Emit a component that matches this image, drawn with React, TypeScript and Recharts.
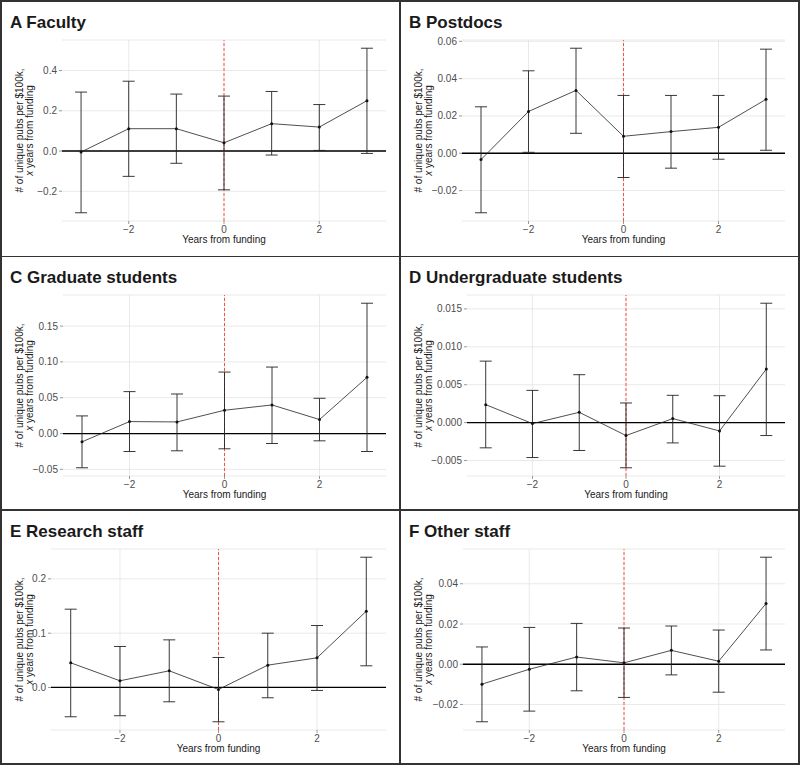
import { LineChart, Line, XAxis, YAxis, CartesianGrid, ReferenceLine, ErrorBar } from 'recharts';

const years = [-3, -2, -1, 0, 1, 2, 3];
const yearTicks = [-2, 0, 2];

const facultyEst = [-0.005, 0.111, 0.111, 0.041, 0.136, 0.119, 0.25];
const facultyLo = [-0.307, -0.126, -0.061, -0.193, -0.02, 0.003, -0.012];
const facultyHi = [0.293, 0.347, 0.283, 0.273, 0.296, 0.231, 0.511];
const facultyTicks = [-0.2, 0, 0.2, 0.4];

const postdocEst = [-0.0034, 0.0224, 0.0337, 0.0091, 0.0116, 0.0139, 0.0289];
const postdocLo = [-0.0319, 0.0005, 0.0107, -0.013, -0.008, -0.0032, 0.0016];
const postdocHi = [0.0249, 0.0442, 0.0563, 0.031, 0.031, 0.031, 0.0558];
const postdocTicks = [-0.02, 0, 0.02, 0.04, 0.06];

const gradEst = [-0.0116, 0.0167, 0.0162, 0.0325, 0.0399, 0.0195, 0.0784];
const gradLo = [-0.0478, -0.0251, -0.0241, -0.0213, -0.0139, -0.0102, -0.0251];
const gradHi = [0.0246, 0.0585, 0.0552, 0.0858, 0.0928, 0.0492, 0.1819];
const gradTicks = [-0.05, 0, 0.05, 0.1, 0.15];

const undergradEst = [0.00237, -0.00013, 0.00136, -0.00171, 0.00053, -0.0011, 0.00706];
const undergradLo = [-0.00333, -0.00461, -0.00368, -0.00596, -0.00268, -0.00575, -0.00171];
const undergradHi = [0.00811, 0.00425, 0.00632, 0.00259, 0.0036, 0.00355, 0.01575];
const undergradTicks = [-0.005, 0, 0.005, 0.01, 0.015];

const researchEst = [0.0454, 0.0123, 0.0307, -0.0037, 0.0411, 0.0546, 0.1405];
const researchLo = [-0.054, -0.0521, -0.0264, -0.0632, -0.019, -0.0055, 0.0399];
const researchHi = [0.1442, 0.0755, 0.0877, 0.0552, 0.1, 0.1141, 0.2399];
const researchTicks = [0, 0.1, 0.2];

const otherEst = [-0.0099, -0.0025, 0.0036, 0.0007, 0.0069, 0.0015, 0.0302];
const otherLo = [-0.0286, -0.0233, -0.0132, -0.0165, -0.0053, -0.0139, 0.0071];
const otherHi = [0.0086, 0.0183, 0.0203, 0.018, 0.019, 0.017, 0.0532];
const otherTicks = [-0.02, 0, 0.02, 0.04];

const FONT = '"Liberation Sans", Arial, Helvetica, sans-serif';
const CHART_W = 397;
const CHART_H = 249;
const TOP = 38;
const RIGHT = 13;
const PLOT_H = CHART_H - TOP - 30;

function fmt(v: number, dec: number) {
  const s = Math.abs(v) < 1e-12 ? (0).toFixed(dec) : v.toFixed(dec);
  return s.replace('-', '\u2212');
}

function yDomain(lo: number[], hi: number[]): [number, number] {
  const mn = Math.min(...lo);
  const mx = Math.max(...hi);
  const pad = (mx - mn) * 0.05;
  return [mn - pad, mx + pad];
}

interface PanelProps {
  title: string;
  est: number[];
  lo: number[];
  hi: number[];
  ticks: number[];
  dec: number;
  axisW: number;
  left: number;
  top: number;
}

function Panel({ title, est, lo, hi, ticks, dec, axisW, left, top }: PanelProps) {
  const data = years.map((yr, i) => ({
    year: yr,
    est: est[i],
    err: [est[i] - lo[i], hi[i] - est[i]],
  }));
  const plotMidX = (axisW + (CHART_W - RIGHT)) / 2;
  const plotMidY = TOP + PLOT_H / 2;

  return (
    <div style={{ position: 'absolute', left, top, width: CHART_W, height: CHART_H }}>
      <div
        style={{
          position: 'absolute',
          left: 8,
          top: 12,
          fontFamily: FONT,
          fontWeight: 'bold',
          fontSize: 17,
          lineHeight: '17px',
          color: '#1a1a1a',
          whiteSpace: 'nowrap',
        }}
      >
        {title}
      </div>
      <LineChart
        width={CHART_W}
        height={CHART_H}
        data={data}
        margin={{ top: TOP, right: RIGHT, bottom: 0, left: 0 }}
        style={{ fontFamily: FONT }}
      >
        <CartesianGrid stroke="#e3e3e3" strokeWidth={0.8} verticalValues={yearTicks} />
        <XAxis
          dataKey="year"
          type="number"
          domain={[-3.4, 3.4]}
          ticks={yearTicks}
          height={30}
          axisLine={false}
          tickLine={{ stroke: '#555', strokeWidth: 0.6 }}
          tickSize={3}
          tickMargin={1.5}
          tick={{ fontSize: 10, fill: '#4d4d4d' }}
          tickFormatter={(v: number) => fmt(v, 0)}
          allowDataOverflow
        />
        <YAxis
          type="number"
          width={axisW}
          domain={yDomain(lo, hi)}
          ticks={ticks}
          axisLine={false}
          tickLine={{ stroke: '#555', strokeWidth: 0.6 }}
          tickSize={3}
          tickMargin={2}
          tick={{ fontSize: 10, fill: '#4d4d4d' }}
          tickFormatter={(v: number) => fmt(v, dec)}
          allowDataOverflow
        />
        <ReferenceLine y={0} stroke="#000" strokeWidth={1.3} />
        <ReferenceLine x={0} stroke="#ff2a1a" strokeWidth={0.8} strokeDasharray="3 2" />
        <Line
          dataKey="est"
          type="linear"
          stroke="#222"
          strokeWidth={0.8}
          dot={{ r: 1.5, fill: '#111', stroke: '#111', strokeWidth: 0 }}
          activeDot={false}
          isAnimationActive={false}
        >
          <ErrorBar dataKey="err" direction="y" width={6} stroke="#222" strokeWidth={0.9} isAnimationActive={false} />
        </Line>
      </LineChart>
      <svg
        width={CHART_W}
        height={CHART_H}
        style={{ position: 'absolute', left: 0, top: 0, pointerEvents: 'none' }}
      >
        <text
          transform={`translate(20.5, ${plotMidY}) rotate(-90)`}
          textAnchor="middle"
          fontSize={10}
          fill="#1a1a1a"
          fontFamily={FONT}
        >
          <tspan x={0} dy={0}># of unique pubs per $100k,</tspan>
          <tspan x={0} dy={10}>
            <tspan fontStyle="italic">x</tspan> years from funding
          </tspan>
        </text>
        <text
          x={plotMidX}
          y={TOP + PLOT_H + 21.5}
          textAnchor="middle"
          fontSize={10}
          fill="#1a1a1a"
          fontFamily={FONT}
        >
          Years from funding
        </text>
      </svg>
    </div>
  );
}

export default function App() {
  const line = '#333';
  return (
    <div
      style={{
        position: 'absolute',
        left: 0,
        top: 0,
        width: 800,
        height: 765,
        boxSizing: 'border-box',
        border: `2px solid ${line}`,
        background: '#fff',
      }}
    >
      <div style={{ position: 'absolute', left: 397, top: 0, width: 1.5, height: 761, background: line }} />
      <div style={{ position: 'absolute', left: 0, top: 253.5, width: 796, height: 1.5, background: line }} />
      <div style={{ position: 'absolute', left: 0, top: 507, width: 796, height: 1.5, background: line }} />

      <Panel title="A Faculty" est={facultyEst} lo={facultyLo} hi={facultyHi} ticks={facultyTicks} dec={1} axisW={60} left={0} top={0} />
      <Panel title="B Postdocs" est={postdocEst} lo={postdocLo} hi={postdocHi} ticks={postdocTicks} dec={2} axisW={61} left={399} top={0} />
      <Panel title="C Graduate students" est={gradEst} lo={gradLo} hi={gradHi} ticks={gradTicks} dec={2} axisW={61} left={0} top={255} />
      <Panel title="D Undergraduate students" est={undergradEst} lo={undergradLo} hi={undergradHi} ticks={undergradTicks} dec={3} axisW={66} left={399} top={255} />
      <Panel title="E Research staff" est={researchEst} lo={researchLo} hi={researchHi} ticks={researchTicks} dec={1} axisW={49} left={0} top={509} />
      <Panel title="F Other staff" est={otherEst} lo={otherLo} hi={otherHi} ticks={otherTicks} dec={2} axisW={62} left={399} top={509} />
    </div>
  );
}
